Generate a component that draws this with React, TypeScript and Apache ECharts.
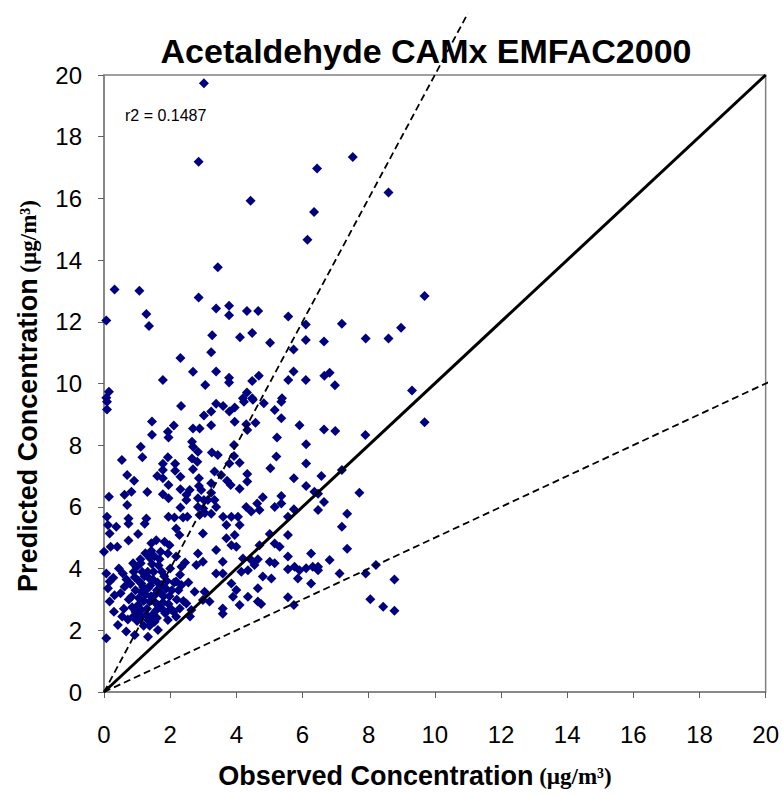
import React, { useEffect, useRef } from "react";
import * as echarts from "echarts";

const chartTitle = "Acetaldehyde CAMx EMFAC2000";
const xTitle = "Observed Concentration";
const yTitle = "Predicted Concentration";
const unitText = " (µg/m³)";
const r2Text = "r2 = 0.1487";

const axisMin = 0;
const axisMax = 20;
const axisStep = 2;

const oneToOne: [number, number][] = [[0, 0], [20, 20]];
const twoToOne: [number, number][] = [[0, 0], [11, 22]];
const halfToOne: [number, number][] = [[0, 0], [22, 11]];

const upperPoints: [number, number][] = [
  [3.02, 19.73], [2.86, 17.19], [4.43, 15.92], [7.52, 17.34], [6.44, 16.97], [8.6, 16.19], [6.35, 15.56], [6.15, 14.66],
  [3.44, 13.77], [0.32, 13.05], [1.07, 13.01], [2.86, 12.79], [3.39, 12.43], [3.78, 12.52], [3.78, 12.21], [4.32, 12.35],
  [4.66, 12.35], [1.28, 12.25], [0.07, 12.04], [1.36, 11.86], [3.27, 11.56], [4.11, 11.5], [4.48, 11.64], [5.02, 11.32],
  [3.24, 11.01], [2.31, 10.83], [2.69, 10.38], [3.39, 10.39], [3.06, 9.95], [1.78, 10.11], [3.78, 10.19], [3.78, 10.03],
  [4.48, 10.08], [4.68, 10.25], [0.15, 9.73], [0.07, 9.54], [4.32, 9.71], [4.2, 9.52], [4.48, 9.52],
  [9.69, 12.84], [5.57, 12.17], [6.1, 11.91], [7.19, 11.94], [8.98, 11.81], [6.1, 11.41], [6.65, 11.36], [7.91, 11.46],
  [8.6, 11.46], [5.73, 11.1], [5.73, 10.39], [5.57, 10.11], [6.1, 10.11], [6.66, 10.25], [6.82, 10.35], [6.98, 9.94],
  [9.31, 9.77], [5.38, 9.52],
];

const middleLeftPoints: [number, number][] = [
  [0.09, 9.41], [0.09, 9.16], [2.33, 9.27], [3.02, 8.96], [1.45, 8.77], [2.11, 8.64], [1.93, 8.44], [1.45, 8.34],
  [1.95, 8.25], [2.69, 8.54], [2.89, 8.54], [1.11, 7.95], [1.16, 7.61], [0.54, 7.52], [1.93, 7.61], [2.66, 8.11],
  [2.69, 7.95], [2.84, 7.79], [2.66, 7.57], [2.82, 7.46], [1.78, 7.4], [2.15, 7.4], [1.78, 7.2], [2.15, 7.17],
  [2.69, 7.22], [1.61, 7.0], [1.78, 6.93], [2.31, 6.98], [0.7, 7.03], [0.91, 6.85], [2.87, 6.93], [2.87, 6.68],
  [1.95, 6.71], [2.31, 6.57], [2.59, 6.55], [2.94, 6.55], [0.83, 6.49], [0.62, 6.39], [1.31, 6.48], [0.15, 6.33],
  [1.78, 6.41], [1.95, 6.28], [2.49, 6.39], [2.49, 6.22], [2.84, 6.28], [0.7, 6.06], [2.31, 5.98], [2.84, 6.0],
  [3.02, 6.22], [0.09, 5.68], [1.28, 5.62], [1.95, 5.68], [2.13, 5.66], [2.39, 5.66], [2.52, 5.68], [2.89, 5.74],
  [0.74, 5.62], [3.0, 5.95], [3.05, 5.8],
];

const middleRightPoints: [number, number][] = [
  [3.39, 9.34], [3.6, 9.27], [3.24, 9.09], [3.79, 9.09], [3.95, 9.22], [4.23, 9.41], [4.5, 9.47], [4.83, 9.36],
  [5.16, 9.14], [5.36, 9.41], [5.36, 8.87], [3.95, 8.76], [4.3, 8.68], [4.58, 8.73], [4.33, 8.49], [3.24, 8.65],
  [5.91, 8.65], [5.23, 8.25], [3.93, 8.01], [6.11, 8.03], [3.26, 7.76], [3.44, 7.68], [3.93, 7.65], [5.21, 7.63],
  [3.79, 7.41], [4.1, 7.43], [5.03, 7.25], [6.11, 7.41], [3.34, 7.15], [3.54, 7.03], [4.33, 7.07], [3.72, 6.85],
  [3.83, 6.71], [4.33, 6.82], [5.74, 6.93], [3.24, 6.77], [4.1, 6.59], [6.11, 6.68], [5.36, 6.35], [6.36, 6.49],
  [4.8, 6.31], [3.24, 6.46], [3.34, 6.22], [3.14, 6.22], [3.39, 6.0], [4.3, 6.0], [4.63, 6.11], [4.7, 5.9],
  [4.45, 5.85], [5.16, 6.0], [5.36, 6.11], [5.74, 5.92], [5.56, 5.68], [3.6, 5.68], [3.85, 5.68], [4.05, 5.68],
  [3.24, 5.78],
  [6.65, 8.51], [6.99, 8.46], [7.9, 8.33], [9.69, 8.74], [6.57, 7.0], [7.19, 7.2], [6.47, 6.43], [6.65, 6.16],
  [6.47, 5.9], [7.72, 6.46], [7.35, 5.78], [7.19, 5.36], [7.35, 4.64], [6.82, 4.28], [6.47, 4.06], [7.12, 3.84],
  [7.91, 3.84], [8.22, 4.12], [8.78, 3.65], [8.05, 3.01], [8.44, 2.76], [8.78, 2.63],
];

const lowerLeftPoints: [number, number][] = [
  [0.12, 5.41], [0.37, 5.36], [0.74, 5.45], [1.23, 5.45], [0.17, 5.14], [1.03, 5.12], [0.74, 4.91], [0.2, 4.71],
  [0.4, 4.71], [0.0, 4.55], [1.43, 4.82], [1.58, 4.92], [1.83, 4.87], [1.98, 4.76], [1.43, 4.58], [1.71, 4.55],
  [1.93, 4.49], [0.88, 4.17], [1.11, 4.17], [0.07, 3.84], [0.57, 3.84], [0.17, 3.58], [0.93, 3.72], [1.13, 3.52],
  [0.12, 3.36], [0.62, 3.41], [0.32, 3.14], [0.83, 3.09], [1.13, 3.25], [0.17, 2.93], [1.33, 3.36], [1.53, 3.14],
  [1.38, 2.93], [1.03, 2.82], [1.63, 2.82], [1.73, 3.47], [1.13, 2.66], [1.83, 2.61], [0.42, 2.17], [0.67, 1.96],
  [0.93, 1.85], [1.33, 1.79], [0.07, 1.74], [1.63, 2.01], [0.88, 2.44], [1.33, 2.33], [1.53, 2.28], [1.93, 2.33],
  [0.75, 3.0], [0.85, 2.75], [0.95, 3.3], [1.0, 2.55], [1.05, 3.6], [1.15, 3.9], [1.2, 2.95], [1.25, 3.15],
  [1.3, 2.7], [1.35, 3.7], [1.4, 3.45], [1.45, 2.5], [1.5, 3.9], [1.55, 2.9], [1.6, 3.3], [1.65, 4.1],
  [1.7, 2.75], [1.75, 3.9], [1.8, 3.1], [1.85, 2.55], [1.9, 3.6], [1.95, 2.85], [2.0, 4.0], [2.05, 3.3],
  [2.1, 2.6], [1.1, 4.3], [1.25, 4.5], [1.45, 4.15], [0.9, 3.9], [0.6, 2.7], [0.5, 3.2], [2.2, 3.0],
  [2.3, 3.8], [2.45, 4.2], [2.55, 3.55], [2.6, 2.45], [1.0, 2.3], [1.2, 2.15], [1.6, 2.4],
  [0.8, 3.5], [0.95, 2.6], [1.05, 3.05], [1.18, 3.4], [1.28, 2.5], [1.32, 3.9], [1.42, 3.1], [1.48, 3.65],
  [1.58, 2.65], [1.62, 3.55], [1.72, 3.2], [1.78, 2.9], [1.88, 3.35], [1.98, 3.1], [2.02, 2.7], [0.72, 2.35],
  [0.68, 3.65], [1.22, 3.75], [1.38, 4.35], [1.52, 4.4], [1.68, 4.3], [0.98, 4.05], [0.45, 4.0], [0.28, 3.7],
  [0.3, 2.6], [0.55, 2.45], [1.12, 2.45], [1.38, 2.15], [1.82, 3.75], [2.12, 3.55], [2.25, 3.3], [2.4, 2.95],
];

const lowerRightPoints: [number, number][] = [
  [2.18, 5.3], [2.28, 5.09], [2.99, 5.14], [3.7, 5.41], [3.95, 5.09], [4.1, 5.41], [3.7, 4.98], [3.85, 4.76],
  [4.0, 4.71], [3.39, 4.6], [2.84, 4.49], [2.99, 4.22], [2.79, 4.12], [2.18, 4.39], [2.34, 4.06], [3.59, 4.22],
  [3.39, 3.84], [3.59, 3.84], [2.18, 3.58], [2.34, 3.47], [2.74, 3.25], [3.04, 3.25], [2.99, 2.98], [3.19, 2.93],
  [3.59, 2.71], [3.59, 2.54], [3.85, 3.52], [3.9, 3.09], [4.1, 2.82], [4.0, 3.31], [2.29, 2.71], [2.49, 2.87],
  [2.64, 2.66], [2.18, 2.44], [4.2, 4.33], [4.15, 3.9],
  [5.01, 5.12], [5.56, 5.09], [4.7, 4.76], [5.16, 4.81], [5.31, 4.71], [5.56, 4.39], [6.26, 4.49], [5.01, 4.22],
  [5.16, 4.17], [4.45, 4.28], [4.65, 4.3], [5.56, 3.98], [5.76, 4.06], [5.91, 3.95], [6.11, 4.01], [6.31, 4.06],
  [6.47, 3.95], [5.86, 3.68], [6.26, 3.52], [4.8, 3.74], [5.06, 3.68], [4.65, 3.36], [4.35, 3.09], [4.65, 2.93],
  [4.75, 2.85], [5.56, 3.07], [5.74, 2.82], [4.55, 4.12], [4.35, 3.95],
];

const allPoints = [
  ...upperPoints,
  ...middleLeftPoints,
  ...middleRightPoints,
  ...lowerLeftPoints,
  ...lowerRightPoints,
];

export default function App() {
  const ref = useRef<HTMLDivElement>(null);

  useEffect(() => {
    if (!ref.current) return;
    const chart = echarts.init(ref.current, null, { renderer: "svg" });
    const sans = "Liberation Sans, Arial, sans-serif";
    const serif = "Liberation Serif, Times New Roman, serif";
    const axisCommon = {
      type: "value" as const,
      min: axisMin,
      max: axisMax,
      interval: axisStep,
      axisLine: { show: true, lineStyle: { color: "#808080", width: 1.5 } },
      axisTick: { show: true, length: 6, lineStyle: { color: "#606060", width: 1 } },
      splitLine: { show: false },
    };
    const titleRich = {
      a: { fontSize: 27, fontWeight: "bold", fontFamily: sans, fill: "#000" },
      b: { fontSize: 23, fontWeight: "bold", fontFamily: serif, fill: "#000" },
    };
    chart.setOption({
      animation: false,
      backgroundColor: "#ffffff",
      grid: {
        left: 104,
        right: 16,
        top: 75,
        bottom: 103,
        show: true,
        borderColor: "#808080",
        borderWidth: 1.5,
        containLabel: false,
      },
      xAxis: {
        ...axisCommon,
        axisLabel: { fontSize: 24, color: "#000", margin: 30, fontFamily: sans },
      },
      yAxis: {
        ...axisCommon,
        axisLabel: { fontSize: 24, color: "#000", margin: 22, fontFamily: sans },
      },
      graphic: [
        {
          type: "text",
          x: 426,
          y: 51,
          style: {
            text: chartTitle,
            fontSize: 34,
            fontWeight: "bold",
            fontFamily: sans,
            fill: "#000",
            align: "center",
            verticalAlign: "middle",
          },
        },
        {
          type: "text",
          x: 125,
          y: 115,
          style: {
            text: r2Text,
            fontSize: 16,
            fontFamily: sans,
            fill: "#000",
            align: "left",
            verticalAlign: "middle",
          },
        },
        {
          type: "text",
          x: 415,
          y: 776,
          style: {
            text: `{a|${xTitle}}{b|${unitText}}`,
            align: "center",
            verticalAlign: "middle",
            rich: titleRich,
          },
        },
        {
          type: "text",
          x: 28,
          y: 396,
          rotation: Math.PI / 2,
          style: {
            text: `{a|${yTitle}}{b|${unitText}}`,
            align: "center",
            verticalAlign: "middle",
            rich: titleRich,
          },
        },
      ],
      series: [
        {
          type: "scatter",
          data: allPoints,
          symbol: "diamond",
          symbolSize: 10,
          itemStyle: { color: "#000080", opacity: 1 },
          z: 2,
        },
        {
          type: "line",
          data: oneToOne,
          showSymbol: false,
          symbol: "none",
          clip: false,
          lineStyle: { color: "#000", width: 3 },
          z: 3,
        },
        {
          type: "line",
          data: twoToOne,
          showSymbol: false,
          symbol: "none",
          clip: false,
          lineStyle: { color: "#000", width: 1.8, type: [7, 4] },
          z: 3,
        },
        {
          type: "line",
          data: halfToOne,
          showSymbol: false,
          symbol: "none",
          clip: false,
          lineStyle: { color: "#000", width: 1.8, type: [7, 4] },
          z: 3,
        },
      ],
    });
    return () => chart.dispose();
  }, []);

  return <div ref={ref} style={{ width: 782, height: 795, position: "absolute", left: 0, top: 0 }} />;
}
